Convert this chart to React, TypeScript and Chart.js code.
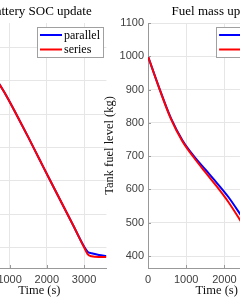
import React, { useEffect, useRef } from "react";
import { Chart, registerables } from "chart.js";
Chart.register(...registerables);

const timeS = [0, 300, 600, 900, 1200, 1500, 1800, 2100, 2400, 2700, 3000, 3100, 3200, 3400, 3600];
const socParallel = [0.915, 0.863, 0.811, 0.757, 0.695, 0.631, 0.565, 0.499, 0.434, 0.369, 0.304, 0.288, 0.284, 0.279, 0.276];
const socSeries = [0.915, 0.863, 0.811, 0.757, 0.695, 0.631, 0.565, 0.499, 0.434, 0.369, 0.302, 0.281, 0.275, 0.273, 0.273];

const fuelTime = [0, 300, 600, 900, 1200, 1500, 1800, 2100, 2400, 2700, 3000, 3100, 3300, 3600];
const fuelParallel = [1000, 903, 814, 748, 700, 660, 620, 578, 528, 475, 425, 414, 408, 404];
const fuelSeries = [1000, 902, 812, 745, 696, 652, 609, 563, 510, 455, 404, 397, 396, 395];

const timeTicks = [0, 1000, 2000, 3000];
const socTicks = [0.3, 0.4, 0.5, 0.6, 0.7, 0.8, 0.9];
const fuelTicks = [400, 500, 600, 700, 800, 900, 1000, 1100];
const seriesNames = ["parallel", "series"];
const seriesColors = ["#0000ff", "#ff0000"];

const SERIF = "'Liberation Serif', 'Times New Roman', serif";
const SANS = "'Liberation Sans', Arial, Helvetica, sans-serif";

const legendPlugin = {
  id: "boxLegend",
  afterDraw(chart: any) {
    const { ctx, chartArea } = chart;
    const w = 66, h = 30;
    const left = chartArea.right - 3.4 - w;
    const top = chartArea.top + 4;
    ctx.save();
    ctx.fillStyle = "#ffffff";
    ctx.fillRect(left, top, w, h);
    ctx.strokeStyle = "#a0a0a0";
    ctx.lineWidth = 1;
    ctx.strokeRect(Math.round(left) + 0.5, top + 0.5, w, h);
    ctx.font = `12px ${SERIF}`;
    ctx.textBaseline = "middle";
    ctx.textAlign = "left";
    seriesNames.forEach((name, i) => {
      const y = top + 8 + i * 14.5;
      ctx.strokeStyle = seriesColors[i];
      ctx.lineWidth = 2;
      ctx.beginPath();
      ctx.moveTo(left + 3, y);
      ctx.lineTo(left + 25, y);
      ctx.stroke();
      ctx.fillStyle = "#000";
      ctx.fillText(name, left + 27, y + 0.5);
    });
    ctx.restore();
  },
};

const innerTicksPlugin = {
  id: "innerTicks",
  afterDatasetsDraw(chart: any) {
    const { ctx, chartArea } = chart;
    const xs = chart.scales.x;
    const ys = chart.scales.y;
    ctx.save();
    ctx.strokeStyle = "#999";
    ctx.lineWidth = 1;
    ctx.beginPath();
    xs.ticks.forEach((t: any) => {
      const px = Math.round(xs.getPixelForValue(t.value)) + 0.5;
      ctx.moveTo(px, chartArea.bottom);
      ctx.lineTo(px, chartArea.bottom - 3);
    });
    ys.ticks.forEach((t: any) => {
      const py = Math.round(ys.getPixelForValue(t.value)) + 0.5;
      ctx.moveTo(chartArea.left, py);
      ctx.lineTo(chartArea.left + 3, py);
    });
    ctx.stroke();
    ctx.restore();
  },
};

function makeConfig(opts: {
  title: string;
  xs: number[];
  a: number[];
  b: number[];
  yMin: number;
  yMax: number;
  yTicks: number[];
  yFmt: (v: number) => string;
  yTitle?: string;
  yWidth: number;
  padRight: number;
}) {
  const ds = (vals: number[], i: number) => ({
    label: seriesNames[i],
    data: opts.xs.map((x, k) => ({ x, y: vals[k] })),
    borderColor: seriesColors[i],
    backgroundColor: seriesColors[i],
    borderWidth: 2,
    pointRadius: 0,
    cubicInterpolationMode: "monotone" as const,
    fill: false,
    order: i === 0 ? 1 : 0,
  });
  return {
    type: "line" as const,
    data: { datasets: [ds(opts.a, 0), ds(opts.b, 1)] },
    options: {
      animation: false as const,
      responsive: false,
      maintainAspectRatio: false,
      layout: { padding: { left: 0, right: opts.padRight, top: 0, bottom: 0 } },
      plugins: {
        legend: { display: false },
        tooltip: { enabled: false },
        title: {
          display: true,
          text: opts.title,
          fullSize: false,
          color: "#000",
          font: { family: SERIF, size: 13, weight: "normal" as const },
          padding: { top: 4, bottom: 3.4 },
        },
      },
      scales: {
        x: {
          type: "linear" as const,
          min: 0,
          max: 3600,
          grid: { color: "#e6e6e6", drawTicks: false },
          border: { color: "#999" },
          afterBuildTicks: (s: any) => {
            s.ticks = timeTicks.map((v) => ({ value: v }));
          },
          ticks: {
            padding: 5,
            maxRotation: 0,
            autoSkip: false,
            color: "#404040",
            font: { family: SANS, size: 11 },
            callback: (v: any) => String(v),
          },
          title: {
            display: true,
            text: "Time (s)",
            color: "#111",
            font: { family: SERIF, size: 12.5 },
            padding: { top: 0, bottom: 2.5 },
          },
          afterFit: (s: any) => {
            s.height = 33;
          },
        },
        y: {
          type: "linear" as const,
          min: opts.yMin,
          max: opts.yMax,
          grid: { color: "#e6e6e6", drawTicks: false },
          border: { color: "#999" },
          afterBuildTicks: (s: any) => {
            s.ticks = opts.yTicks.map((v) => ({ value: v }));
          },
          ticks: {
            padding: 4,
            autoSkip: false,
            color: "#404040",
            font: { family: SANS, size: 11 },
            callback: (v: any) => opts.yFmt(Number(v)),
          },
          title: {
            display: !!opts.yTitle,
            text: opts.yTitle || "",
            color: "#111",
            font: { family: SERIF, size: 12.5 },
            padding: { top: 2.5, bottom: 0 },
          },
          afterFit: (s: any) => {
            s.width = opts.yWidth;
          },
        },
      },
    },
    plugins: [innerTicksPlugin, legendPlugin],
  };
}

export default function App() {
  const leftRef = useRef<HTMLCanvasElement>(null);
  const rightRef = useRef<HTMLCanvasElement>(null);

  useEffect(() => {
    const c1 = new Chart(
      leftRef.current!,
      makeConfig({
        title: "Battery SOC update",
        xs: timeS,
        a: socParallel,
        b: socSeries,
        yMin: 0.24,
        yMax: 0.972,
        yTicks: socTicks,
        yFmt: (v) => v.toFixed(1),
        yWidth: 62.4,
        padRight: 3.6,
      }) as any
    );
    const c2 = new Chart(
      rightRef.current!,
      makeConfig({
        title: "Fuel mass update",
        xs: fuelTime,
        a: fuelParallel,
        b: fuelSeries,
        yMin: 364,
        yMax: 1100,
        yTicks: fuelTicks,
        yFmt: (v) => String(Math.round(v)),
        yTitle: "Tank fuel level (kg)",
        yWidth: 48,
        padRight: 14.5,
      }) as any
    );
    return () => {
      c1.destroy();
      c2.destroy();
    };
  }, []);

  return (
    <div
      style={{
        position: "fixed",
        left: 0,
        top: 0,
        width: 240,
        height: 301,
        overflow: "hidden",
        background: "#fff",
      }}
    >
      <canvas
        ref={leftRef}
        width={200}
        height={301}
        style={{ position: "absolute", left: -90, top: 0, width: 200, height: 301 }}
      />
      <canvas
        ref={rightRef}
        width={200}
        height={301}
        style={{ position: "absolute", left: 100, top: 0, width: 200, height: 301 }}
      />
    </div>
  );
}
